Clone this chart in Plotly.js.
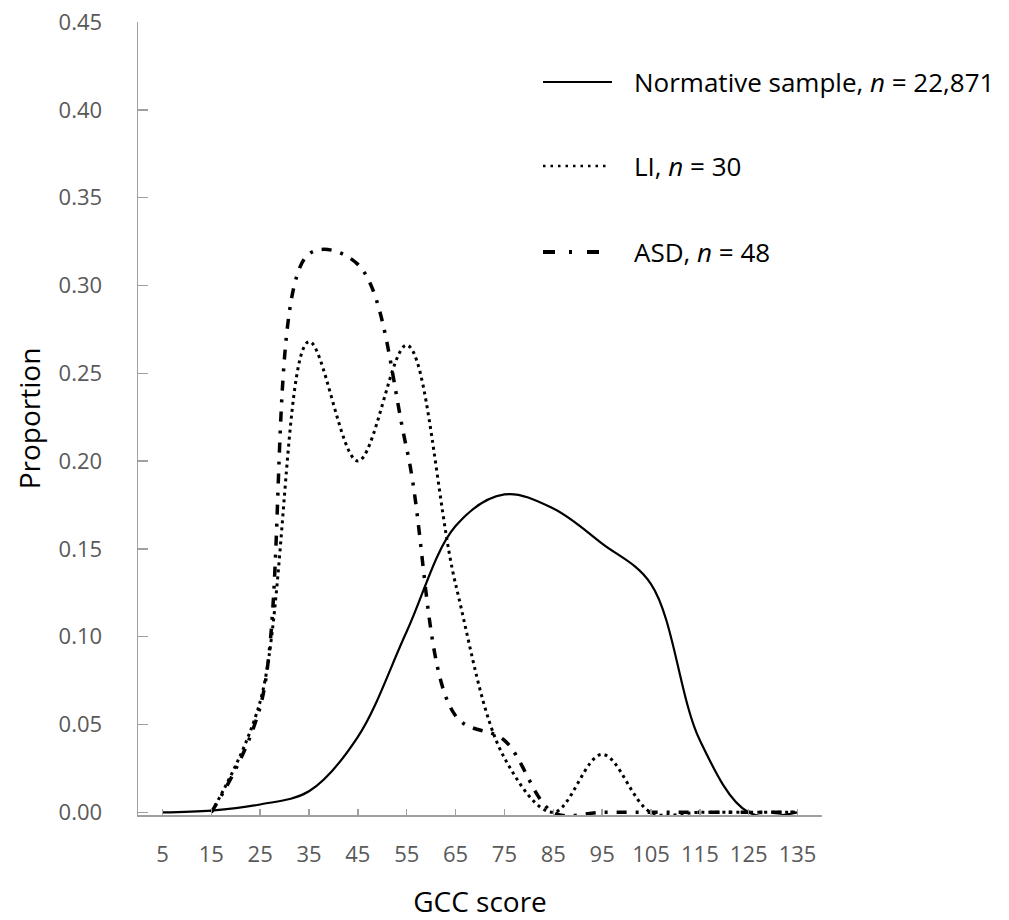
<!DOCTYPE html>
<html>
<head>
<meta charset="utf-8">
<script src="https://cdn.plot.ly/plotly-3.0.1.min.js"></script>
<style>html,body{margin:0;padding:0;background:#fff;}#chart{width:1009px;height:920px;}</style>
</head>
<body>
<div id="chart"></div>
<script>
// GCC score categories
var gccScores = [5, 15, 25, 35, 45, 55, 65, 75, 85, 95, 105, 115, 125, 135];
var tickLabels = ["5", "15", "25", "35", "45", "55", "65", "75", "85", "95", "105", "115", "125", "135"];
// Proportions per group
var normative = [0.000, 0.001, 0.0045, 0.012, 0.043, 0.103, 0.163, 0.181, 0.173, 0.153, 0.130, 0.041, 0.000, 0.000];
var li        = [null, 0.000, 0.063, 0.268, 0.200, 0.266, 0.130, 0.031, 0.000, 0.033, 0.000, 0.000, 0.000, 0.000];
var asd       = [null, 0.000, 0.060, 0.318, 0.312, 0.207, 0.055, 0.041, 0.000, 0.000, 0.000, 0.000, 0.000, 0.000];
var seriesNames = ["Normative sample, <i>n</i> = 22,871", "LI, <i>n</i> = 30", "ASD, <i>n</i> = 48"];

var FONT = "Open Sans, Segoe UI, sans-serif";
var L = 138, R = 822, T = 22, B = 815, W = 1009, H = 920;
function px(x){ return (x - L) / (R - L); }
function py(y){ return (B - y) / (B - T); }

var traces = [
  {x: gccScores, y: normative, type: "scatter", mode: "lines", name: seriesNames[0],
   line: {color: "#000", width: 2.2, shape: "spline", smoothing: 1}, showlegend: false},
  {x: gccScores, y: li, type: "scatter", mode: "lines", name: seriesNames[1],
   line: {color: "#000", width: 3, dash: "3px,4px", shape: "spline", smoothing: 1}, showlegend: false},
  {x: gccScores, y: asd, type: "scatter", mode: "lines", name: seriesNames[2],
   line: {color: "#000", width: 3.5, dash: "10px,9px,3px,9px", shape: "spline", smoothing: 1}, showlegend: false}
];

var legendY = [82, 166, 252];
var shapes = [
  {type: "line", xref: "paper", yref: "paper", x0: px(543), x1: px(612), y0: py(legendY[0]), y1: py(legendY[0]),
   line: {color: "#000", width: 2}},
  {type: "line", xref: "paper", yref: "paper", x0: px(543), x1: px(608), y0: py(legendY[1]), y1: py(legendY[1]),
   line: {color: "#000", width: 2.5, dash: "2.5px,5px"}},
  {type: "line", xref: "paper", yref: "paper", x0: px(543), x1: px(600), y0: py(legendY[2]), y1: py(legendY[2]),
   line: {color: "#000", width: 4, dash: "12px,14px,3px,15px"}}
];
var annotations = seriesNames.map(function(t, i){
  return {xref: "paper", yref: "paper", x: px(632), y: py(legendY[i]), xanchor: "left", yanchor: "middle",
          text: t, showarrow: false, font: {family: FONT, size: 26, color: "#000"}};
});

var layout = {
  width: W, height: H,
  margin: {l: L, r: W - R, t: T, b: H - B, pad: 0},
  paper_bgcolor: "#fff", plot_bgcolor: "#fff",
  font: {family: FONT},
  showlegend: false,
  xaxis: {
    range: [0, 140], tickmode: "array", tickvals: gccScores.concat([140]), ticktext: tickLabels.concat([""]),
    showgrid: false, zeroline: false, showline: true, linecolor: "#a0a0a0", linewidth: 1.5,
    ticks: "inside", ticklen: 6, tickcolor: "#a0a0a0", tickwidth: 1.5,
    tickfont: {family: FONT, size: 22, color: "#595959"}, ticklabelstandoff: 19,
    title: {text: "GCC score", font: {family: FONT, size: 28, color: "#000"}, standoff: 28}
  },
  yaxis: {
    range: [-0.0015, 0.45], tickmode: "array",
    tickvals: [0, 0.05, 0.10, 0.15, 0.20, 0.25, 0.30, 0.35, 0.40, 0.45],
    tickformat: ".2f",
    showgrid: false, zeroline: false, showline: true, linecolor: "#a0a0a0", linewidth: 1.5,
    ticks: "inside", ticklen: 10, tickcolor: "#a0a0a0", tickwidth: 1.5,
    tickfont: {family: FONT, size: 22, color: "#595959"}, ticklabelstandoff: 30,
    title: {text: "Proportion", font: {family: FONT, size: 28, color: "#000"}, standoff: 10}
  },
  shapes: shapes,
  annotations: annotations
};

Plotly.newPlot("chart", traces, layout, {displayModeBar: false, staticPlot: true});
</script>
</body>
</html>
